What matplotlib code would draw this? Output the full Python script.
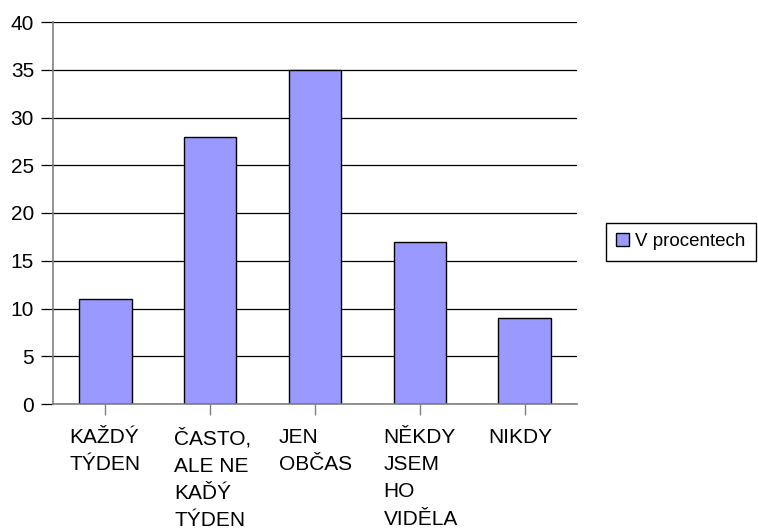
import matplotlib.pyplot as plt
import numpy as np

# survey answers, percentage of respondents
categories = ["KAŽDÝ\nTÝDEN", "ČASTO,\nALE NE\nKAĎÝ\nTÝDEN", "JEN\nOBČAS",
              "NĚKDY\nJSEM\nHO\nVIDĚLA", "NIKDY"]
values = [11, 28, 35, 17, 9]
series_name = "V procentech"
yticks = [0, 5, 10, 15, 20, 25, 30, 35, 40]

plt.rcParams['font.family'] = ['Liberation Sans', 'DejaVu Sans']

fig = plt.figure(figsize=(7.58, 5.31), dpi=100)
ax = fig.add_axes([53 / 758, 1 - 404 / 531, 524 / 758, 382 / 531])

x = np.arange(len(categories))
ax.bar(x, values, width=0.5, color="#9999ff", edgecolor="black",
       linewidth=1.0, zorder=3, label=series_name)

ax.set_xlim(-0.5, len(categories) - 0.5)
ax.set_ylim(0, 40)
ax.set_yticks(yticks)
ax.set_yticklabels([str(v) for v in yticks], fontsize=15)
ax.yaxis.grid(True, color="black", linewidth=0.9, zorder=0)

ax.set_xticks(x)
ax.set_xticklabels([])
ax.tick_params(axis="x", direction="out", length=8, width=1, color="#808080")
ax.tick_params(axis="y", direction="out", length=8.6, width=0.9,
               color="black", pad=5)

for side in ["top", "right"]:
    ax.spines[side].set_visible(False)
for side in ["left", "bottom"]:
    ax.spines[side].set_color("#808080")
    ax.spines[side].set_linewidth(1.2)
    ax.spines[side].set_zorder(4)

# category labels, left aligned below each tick
for i, lab in enumerate(categories):
    ax.annotate(lab, xy=(i, 0), xycoords=("data", "axes fraction"),
                xytext=(-26, -17), textcoords="offset points",
                ha="left", va="top", fontsize=15, linespacing=1.56)

fig.legend(loc="upper left", bbox_to_anchor=(606 / 758, 1 - 223 / 531),
           fontsize=13.5, frameon=True, fancybox=False, edgecolor="black",
           framealpha=1, handlelength=0.7, handleheight=0.7,
           handletextpad=0.3, borderpad=0.55, borderaxespad=0)

plt.savefig("out.png", dpi=100)
